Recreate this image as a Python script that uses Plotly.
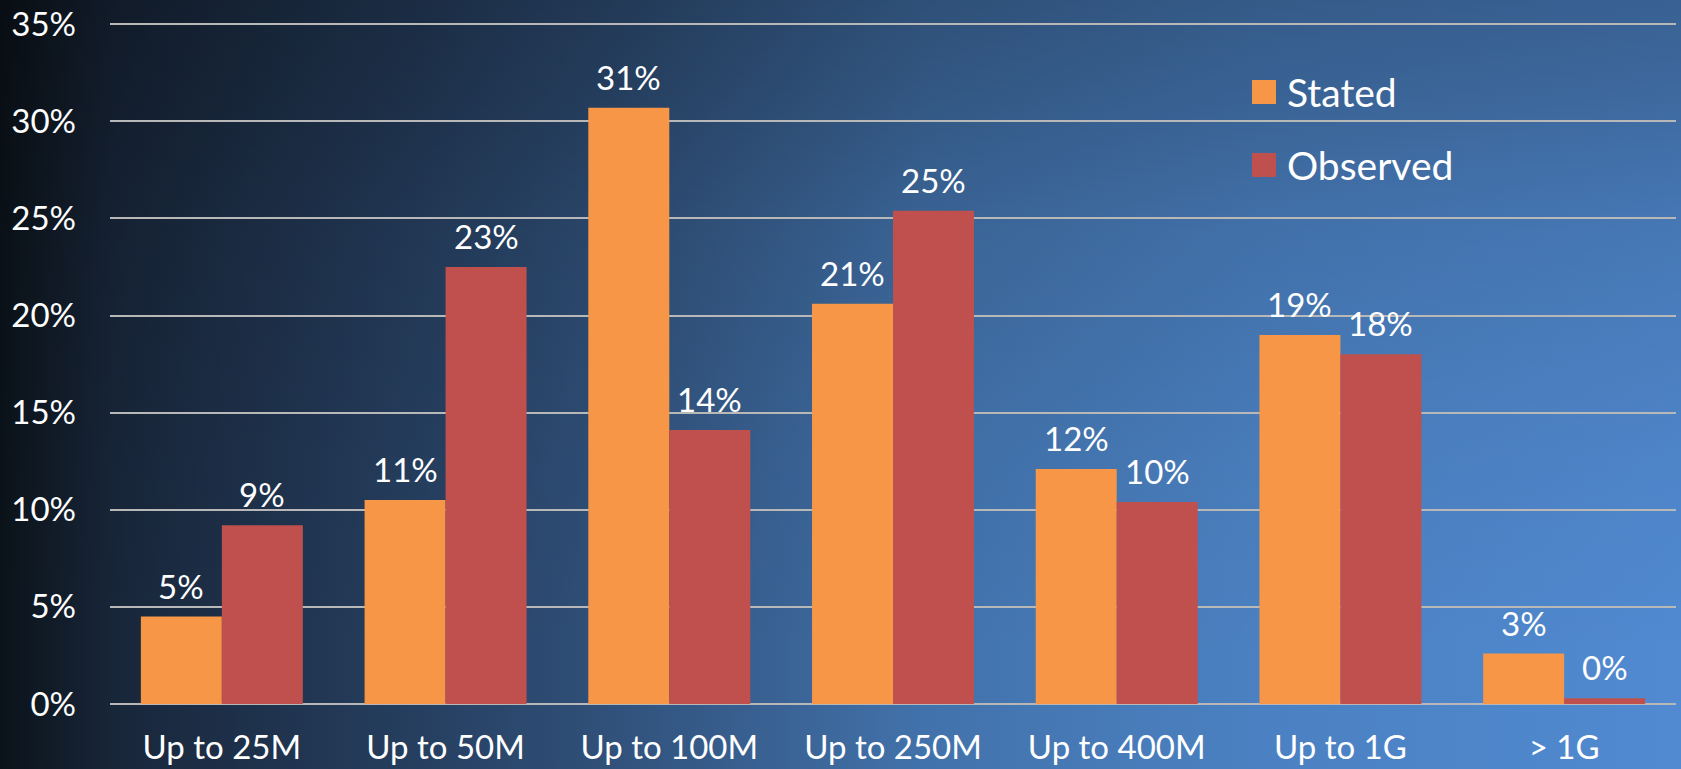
import base64
import plotly.graph_objects as go

categories = ["Up to 25M", "Up to 50M", "Up to 100M", "Up to 250M", "Up to 400M", "Up to 1G", "> 1G"]
stated = [0.045, 0.105, 0.307, 0.206, 0.121, 0.190, 0.026]
observed = [0.092, 0.225, 0.141, 0.254, 0.104, 0.180, 0.003]
series_names = ["Stated", "Observed"]
series_colors = ["#F79646", "#C0504D"]
y_ticks = [0, 0.05, 0.10, 0.15, 0.20, 0.25, 0.30, 0.35]

W, H = 1681, 769
ML, MR, MT, MB = 110, 5, 23, 65
PW, PH = W - ML - MR, H - MT - MB
FONT = "Lato"
BARGAP = 0.276

svg = f"""<svg xmlns='http://www.w3.org/2000/svg' width='{W}' height='{H}' viewBox='0 0 {W} {H}' preserveAspectRatio='none'>
<defs>
<linearGradient id='h' x1='0' y1='0' x2='1' y2='0'>
<stop offset='0' stop-color='#0a1219'/>
<stop offset='0.03' stop-color='#111b27'/>
<stop offset='0.07' stop-color='#18263a'/>
<stop offset='0.25' stop-color='#263f60'/>
<stop offset='0.37' stop-color='#31527c'/>
<stop offset='0.55' stop-color='#4272ab'/>
<stop offset='0.75' stop-color='#4b81c2'/>
<stop offset='1' stop-color='#518ad1'/>
</linearGradient>
<linearGradient id='v' x1='0' y1='0' x2='0' y2='1'>
<stop offset='0' stop-color='#000' stop-opacity='0.30'/>
<stop offset='0.12' stop-color='#000' stop-opacity='0.24'/>
<stop offset='0.3' stop-color='#000' stop-opacity='0.13'/>
<stop offset='0.6' stop-color='#000' stop-opacity='0.04'/>
<stop offset='0.85' stop-color='#000' stop-opacity='0'/>
</linearGradient>
</defs>
<rect width='{W}' height='{H}' fill='url(#h)'/>
<rect width='{W}' height='{H}' fill='url(#v)'/>
</svg>"""
bg_src = "data:image/svg+xml;base64," + base64.b64encode(svg.encode()).decode()

fig = go.Figure()
for name, vals, col in zip(series_names, [stated, observed], series_colors):
    fig.add_trace(go.Bar(name=name, x=categories, y=vals, marker=dict(color=col, line=dict(width=0)),
                         showlegend=False, hoverinfo="skip"))

# value labels
half = (1 - BARGAP) / 4
annotations = []
for k, vals in enumerate([stated, observed]):
    off = -half if k == 0 else half
    for i, v in enumerate(vals):
        annotations.append(dict(x=i + off, y=v, xref="x", yref="y", text=f"{int(v * 100 + 0.5)}%",
                                showarrow=False, yanchor="middle", yshift=31,
                                font=dict(family=FONT, size=33, color="white")))

# legend (manual)
shapes = []
leg_y = [(H - MB - 92) / PH, (H - MB - 165) / PH]
for name, col, ly in zip(series_names, series_colors, leg_y):
    shapes.append(dict(type="rect", xref="paper", yref="paper", xsizemode="pixel", ysizemode="pixel",
                       xanchor=(1264 - ML) / PW, yanchor=ly, x0=-12, x1=12, y0=-12, y1=12,
                       fillcolor=col, line=dict(width=0), layer="above"))
    annotations.append(dict(x=(1285 - ML) / PW, y=ly, xref="paper", yref="paper", text=name,
                            showarrow=False, xanchor="left", yanchor="middle",
                            font=dict(family=FONT, size=39, color="white")))

fig.update_layout(
    width=W, height=H,
    margin=dict(l=ML, r=MR, t=MT, b=MB, pad=0),
    paper_bgcolor="#1e3350", plot_bgcolor="rgba(0,0,0,0)",
    barmode="group", bargap=BARGAP, bargroupgap=0,
    font=dict(family=FONT, size=33, color="white"),
    showlegend=False,
    images=[dict(source=bg_src, xref="paper", yref="paper", x=-(ML + 3) / PW, y=1 + (MT + 3) / PH,
                 sizex=(W + 6) / PW, sizey=(H + 6) / PH, xanchor="left", yanchor="top",
                 sizing="stretch", layer="below")],
    shapes=shapes,
    annotations=annotations,
    xaxis=dict(showgrid=False, showline=False, zeroline=False, ticks="", automargin=False,
               tickfont=dict(family=FONT, size=33, color="white"), ticklabelstandoff=21),
    yaxis=dict(range=[0, 0.3506], tickvals=y_ticks, tickformat=".0%", showgrid=True,
               gridcolor="#b8b8b8", gridwidth=2, zeroline=True, zerolinecolor="#b8b8b8",
               zerolinewidth=2, showline=False, ticks="", automargin=False,
               tickfont=dict(family=FONT, size=33, color="white"), ticklabelstandoff=33),
)

fig.write_html("out.html", config={"displayModeBar": False, "staticPlot": True},
               post_script="document.body.style.margin='0';document.body.style.overflow='hidden';")
